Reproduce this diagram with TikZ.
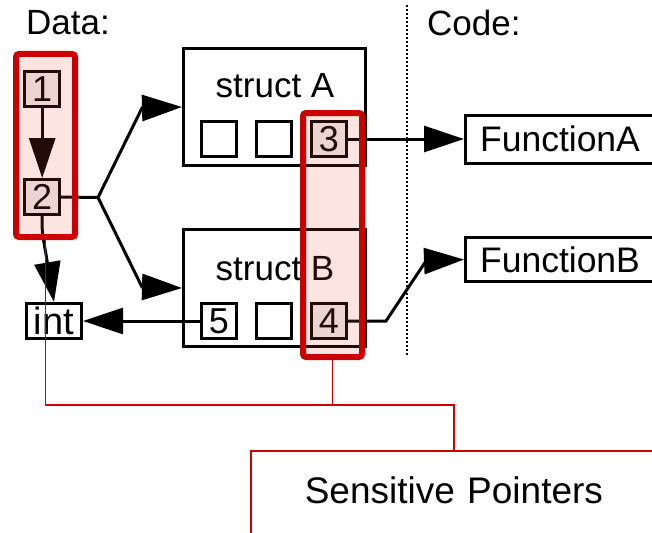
\documentclass[tikz,border=0pt]{standalone}
\usepackage{fontspec}
\setmainfont{Liberation Sans}
\usetikzlibrary{arrows.meta}
\definecolor{rd}{RGB}{204,0,0}
\definecolor{ov}{RGB}{235,75,55}
\tikzset{
  ln/.style={line width=3pt, draw=black},
  arr/.style={ln, -{Triangle[length=40pt,width=26pt]}},
  cell/.style={draw, line width=3pt, minimum width=35pt, minimum height=35pt, inner sep=0pt, font=\fontsize{36}{36}\selectfont, fill=white},
  hcell/.style={cell, fill=gray!15},
  structbox/.style={draw, line width=3pt, minimum width=182pt, minimum height=117pt, inner sep=0pt, fill=white},
  lbl/.style={inner sep=0pt, font=\fontsize{35}{35}\selectfont},
  funcbox/.style={draw, line width=3pt, minimum width=189pt, inner sep=0pt, font=\fontsize{35.5}{35.5}\selectfont, fill=white},
  hl/.style={draw=rd, line width=6pt, rounded corners=3pt, fill=ov, fill opacity=0.15, inner sep=0pt},
  sline/.style={draw=rd, line width=1.8pt},
  sens/.style={draw=rd, line width=1.8pt, inner xsep=0pt, inner ysep=0pt, text width=406pt, align=center, text height=53pt, text depth=100pt, font=\fontsize{37}{37}\selectfont},
  sep/.style={line width=2pt, dash pattern=on 2pt off 2pt},
}
\begin{document}
\begin{tikzpicture}[x=1pt, y=-1pt]
\useasboundingbox (0,0) rectangle (652,532);
\clip (0,0) rectangle (652,532);

% headings
\node[lbl, anchor=base west] (data) at (26,35) {Data:};
\node[lbl, anchor=base west] (code) at (427,36) {Code:};
\draw[sep] (406.5,5) -- (406.5,356);

% structs
\node[structbox] (sA) at (274.5,107) {};
\node[lbl, anchor=base] (sAl) at (275,98) {struct A};
\node[cell] (a1) at (219,139) {};
\node[cell] (a2) at (274,139) {};
\node[hcell] (c3) at (329,139) {3};

\node[structbox] (sB) at (274.5,288) {};
\node[lbl, anchor=base] (sBl) at (275,280) {struct B};
\node[cell] (c5) at (219,321) {5};
\node[cell] (b2x) at (274,321) {};
\node[hcell] (c4) at (329,321) {4};

% data
\node[hcell] (b1) at (42.2,88.8) {1};
\node[hcell] (b2) at (42.2,197) {2};
\node[cell, minimum width=55pt, font=\fontsize{38}{38}\selectfont] (int) at (54,321) {int};

% code
\node[funcbox, minimum height=48pt] (FA) at (560,139) {FunctionA};
\node[funcbox, minimum height=44pt] (FB) at (560,259.5) {FunctionB};

% connectors
\coordinate (jn) at (98,197.5);
\draw[arr] (b1) -- (b2);
\draw[ln] (b2.east) -- (jn);
\draw[arr] (jn) -- (142,108) -- (sA.west);
\draw[arr] (jn) -- (142,287) -- (sB.west);
\draw[arr, rounded corners=4pt] (b2.south) -- ++(0,16) -- (int.north);
\draw[arr] (c5.west) -- (int.east);
\draw[arr] (c3.east) -- (FA.west);
\draw[arr] (c4.east) -- ++(38,0) -- (426,261) -- (FB.west);

% highlight groups
\node[hl, minimum width=59pt, minimum height=183pt] (hlA) at (45.5,145.5) {};
\node[hl, minimum width=59pt, minimum height=244pt] (hlB) at (332.5,235) {};

% sensitive pointers
\node[sens, anchor=north west] (sp) at (250,450) {Sensitive Pointers};
\coordinate (bus) at (0,405);
\draw[sline] (hlA.south) -- (hlA.south |- bus) -| (sp.north);
\draw[sline] (hlB.south) -- (hlB.south |- bus);
\end{tikzpicture}
\end{document}
